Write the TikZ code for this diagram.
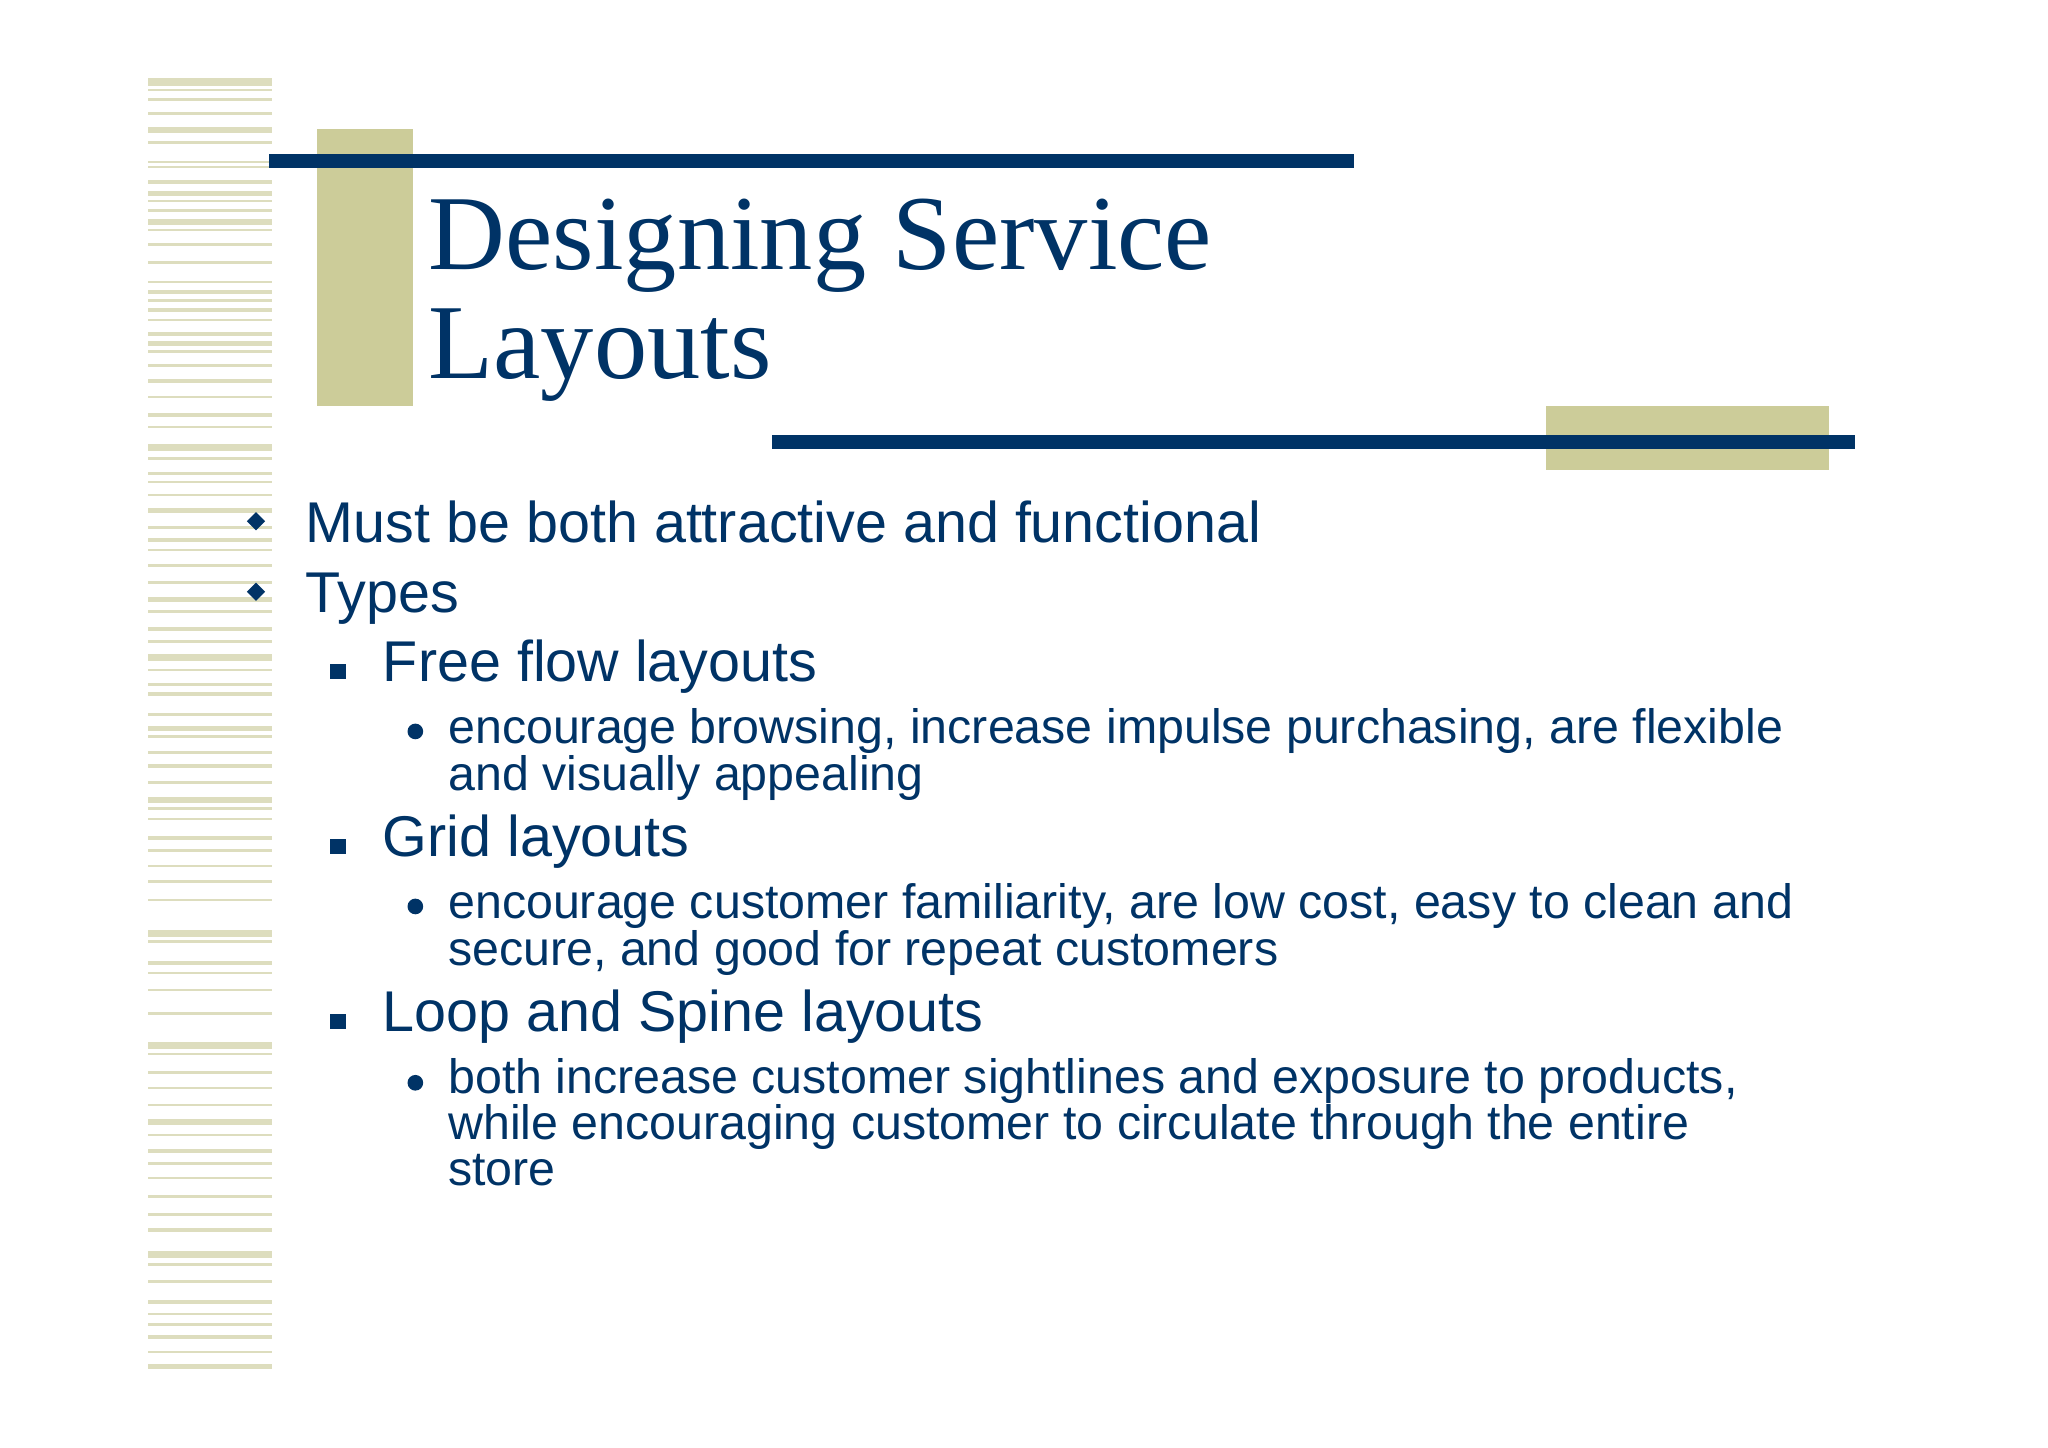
\documentclass[tikz,border=0pt]{standalone}
\usepackage{fontspec}
\setmainfont{Liberation Sans}
\newfontfamily\titlefont{Liberation Serif}
\definecolor{navy}{RGB}{0,51,102}
\definecolor{olive}{RGB}{204,204,153}
\definecolor{lolive}{RGB}{221,221,190}
\begin{document}
\begin{tikzpicture}[x=1pt,y=-1pt,
  txt/.style={anchor=base west,inner sep=0,text=navy},
  lone/.style={txt,font=\fontsize{44}{48}\selectfont},
  ltwo/.style={txt,font=\fontsize{44}{48}\selectfont},
  lthree/.style={txt,font=\fontsize{37}{35.5}\selectfont,align=left}]
\useasboundingbox[fill=white] (0,0) rectangle (1568,1108);
% stripes
\foreach \y/\t in {60/6,68/2,75/2,86/2,97/5,108/2,123/2,127/2,138/3,146/4,153/2,160/2,168/4,175/2,186/2,200/2,215/2,222/3,229/2,236/3,244/2,254/3,261/4,268/2,279/2,290/3,303/2,316/3,326/2,340/5,350/2,361/3,368/2,378/2,389/4,403/2,412/3,420/2,432/2,445/2,457/4,467/2,480/3,490/2,501/5,512/2,523/2,530/3,546/2,556/4,563/2,575/2,585/3,598/2,610/5,618/2,626/2,640/3,650/2,662/2,674/2,688/2,712/5,720/2,736/3,744/2,757/2,775/2,798/5,806/2,820/2,832/2,845/2,857/4,868/2,880/3,890/2,901/2,915/2,929/2,940/3,958/5,967/2,980/2,995/3,1005/2,1013/2,1022/3,1034/2,1044/4}
  \fill[lolive] (113,\y) rectangle (208,\y+\t);
% decorations
\fill[olive] (243,99) rectangle (316,311);
\fill[navy] (206,118) rectangle (1037,129);
\fill[olive] (1184,311) rectangle (1400,360);
\fill[navy] (591,333) rectangle (1420,344);
% title
\node[txt,font=\titlefont\fontsize{81.5}{84}\selectfont,align=left] (title) at (328,290) {Designing Service\\Layouts};
% bullets
\node[lone] (a) at (234,415) {Must be both attractive and functional};
\node[lone] (b) at (234,469) {Types};
\node[ltwo] (c) at (293,522) {Free flow layouts};
\node[lthree] (c1) at (343,605) {encourage browsing, increase impulse purchasing, are flexible\\and visually appealing};
\node[ltwo] (d) at (293,656) {Grid layouts};
\node[lthree] (d1) at (343,739) {encourage customer familiarity, are low cost, easy to clean and\\secure, and good for repeat customers};
\node[ltwo] (e) at (293,790) {Loop and Spine layouts};
\node[lthree] (e1) at (343,908) {both increase customer sightlines and exposure to products,\\while encouraging customer to circulate through the entire\\store};
\fill[navy] (196,392) -- (203,399) -- (196,406) -- (189,399) -- cycle;
\fill[navy] (196,446) -- (203,453) -- (196,460) -- (189,453) -- cycle;
\foreach \y in {514,648,782} \fill[navy] (253,\y-6) rectangle (265,\y+6);
\foreach \y in {560,694,829} \fill[navy] (318,\y) circle (6);
\end{tikzpicture}
\end{document}
